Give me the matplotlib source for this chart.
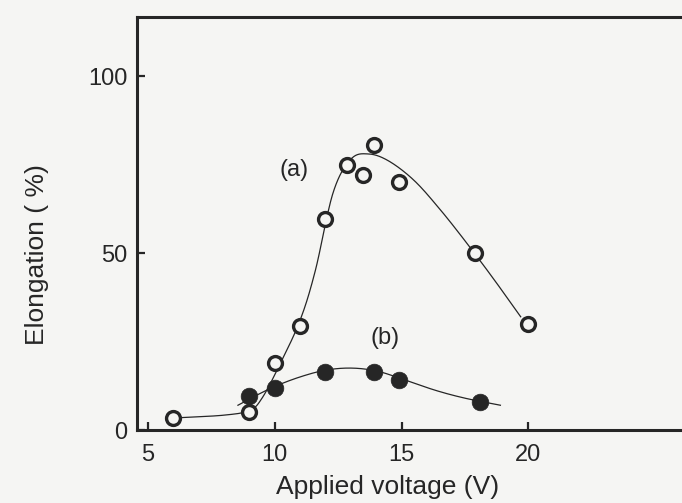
import numpy as np
import matplotlib.pyplot as plt

plt.rcParams["font.family"] = ["Liberation Sans", "DejaVu Sans"]

# measured points, curve (a): open circles
volt_a = [6.0, 9.0, 10.0, 11.0, 12.0, 12.85, 13.5, 13.9, 14.9, 17.9, 20.0]
elong_a = [3.5, 5.0, 19.0, 29.5, 59.5, 75.0, 72.0, 80.5, 70.0, 50.0, 30.0]

# measured points, curve (b): filled circles
volt_b = [9.0, 10.0, 12.0, 13.9, 14.9, 18.1]
elong_b = [9.5, 12.0, 16.5, 16.5, 14.0, 8.0]

# hand-drawn guide curves through the data
guide_a_v = [6.3, 8.0, 9.0, 9.5, 10.2, 11.0, 11.6, 12.3, 13.0, 13.7, 14.5, 15.5, 16.5, 17.5, 18.6, 19.7]
guide_a_e = [3.5, 4.2, 5.5, 9.0, 18.5, 31.0, 45.0, 67.0, 76.5, 78.0, 76.0, 70.5, 62.5, 53.5, 43.0, 32.0]
guide_b_v = [8.55, 9.2, 10.0, 11.0, 12.0, 13.0, 14.0, 15.0, 16.3, 17.5, 18.9]
guide_b_e = [7.0, 9.5, 12.3, 15.0, 16.9, 17.5, 16.7, 14.5, 11.3, 9.0, 7.0]


def smooth(xs, ys, n=30):
    # Catmull-Rom spline through the guide points
    p = np.column_stack([xs, ys])
    p = np.vstack([2 * p[0] - p[1], p, 2 * p[-1] - p[-2]])
    out = []
    t = np.linspace(0, 1, n)[:, None]
    for i in range(1, len(p) - 2):
        p0, p1, p2, p3 = p[i - 1], p[i], p[i + 1], p[i + 2]
        seg = 0.5 * ((2 * p1) + (-p0 + p2) * t
                     + (2 * p0 - 5 * p1 + 4 * p2 - p3) * t ** 2
                     + (-p0 + 3 * p1 - 3 * p2 + p3) * t ** 3)
        out.append(seg)
    out = np.vstack(out)
    return out[:, 0], out[:, 1]


ink = "#262626"
bg = "#f5f5f3"

fig = plt.figure(figsize=(6.82, 5.03), dpi=100, facecolor=bg)
ax = fig.add_axes([0.2009, 0.1451, 0.834, 0.8211], facecolor=bg)

sx, sy = smooth(guide_a_v, guide_a_e)
ax.plot(sx, sy, color=ink, lw=0.9, zorder=2)
sx, sy = smooth(guide_b_v, guide_b_e)
ax.plot(sx, sy, color=ink, lw=0.9, zorder=2)

ax.plot(volt_a, elong_a, "o", ms=10, mfc=bg, mec=ink, mew=2.4, zorder=3)
ax.plot(volt_b, elong_b, "o", ms=12, mfc=ink, mec=ink, mew=0.5, zorder=3)

ax.text(10.75, 73.5, "(a)", fontsize=17, color=ink, ha="center", va="center")
ax.text(14.35, 26.0, "(b)", fontsize=17, color=ink, ha="center", va="center")

ax.set_xlim(4.57, 27)
ax.set_ylim(0, 116.7)
ax.set_xticks([5, 10, 15, 20])
ax.set_yticks([0, 50, 100])

for side in ["left", "bottom", "top"]:
    ax.spines[side].set_linewidth(2.2)
    ax.spines[side].set_color(ink)
ax.spines["right"].set_visible(False)

ax.tick_params(direction="in", length=6, width=1.6, color=ink,
               labelsize=17, labelcolor=ink)
ax.tick_params(axis="x", pad=10)
ax.tick_params(axis="y", pad=7)

ax.set_xlabel("Applied voltage (V)", fontsize=19, color=ink)
ax.set_ylabel("Elongation ( %)", fontsize=19, color=ink, labelpad=28)
ax.xaxis.set_label_coords(0.441, -0.156)
ax.xaxis.label.set_verticalalignment("baseline")
ax.yaxis.label.set_y(0.424)

fig.savefig("out.png", dpi=100, facecolor=bg)
